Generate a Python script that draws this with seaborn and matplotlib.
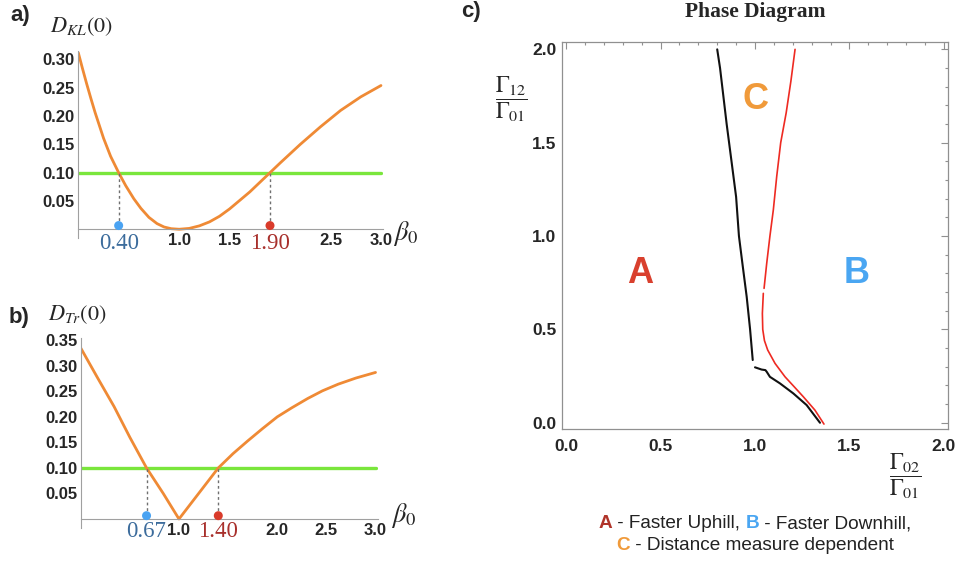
import matplotlib
matplotlib.use("Agg")
import matplotlib.pyplot as plt
from matplotlib.ticker import MultipleLocator
from matplotlib.offsetbox import TextArea, HPacker, AnnotationBbox
import seaborn as sns

# values

# a) D_KL(0) against beta_0
beta_kl = [0.0, 0.04, 0.083, 0.125, 0.167, 0.25, 0.32, 0.40, 0.47, 0.55, 0.62, 0.70,
           0.78, 0.85, 0.92, 1.0, 1.1, 1.2, 1.3, 1.4, 1.5, 1.6, 1.7, 1.8, 1.9, 2.0,
           2.2, 2.4, 2.6, 2.8, 3.0]
d_kl = [0.312, 0.285, 0.257, 0.231, 0.206, 0.161, 0.129, 0.100, 0.077, 0.054, 0.037, 0.021,
        0.010, 0.004, 0.001, 0.0, 0.0015, 0.006, 0.013, 0.023, 0.036, 0.051, 0.066, 0.083, 0.100, 0.117,
        0.150, 0.181, 0.210, 0.234, 0.254]

# b) D_Tr(0) against beta_0
beta_tr = [0.0, 0.17, 0.34, 0.50, 0.67, 0.84, 1.0, 1.2, 1.4, 1.55, 1.7, 1.85, 2.0,
           2.15, 2.31, 2.46, 2.62, 2.8, 3.0]
d_tr = [0.335, 0.277, 0.220, 0.160, 0.100, 0.050, 0.0, 0.050, 0.100, 0.128, 0.153, 0.177, 0.200,
        0.218, 0.236, 0.251, 0.264, 0.276, 0.287]

threshold = 0.10
beta_span = [0.0, 3.0]
kl_cross = [0.40, 1.90]
tr_cross = [0.67, 1.40]
kl_cross_labels = ["0.40", "1.90"]
tr_cross_labels = ["0.67", "1.40"]
dot_y = 0.0065

beta_ticks = [0.5, 1.0, 1.5, 2.0, 2.5, 3.0]
a_xticklabels = ["", "1.0", "1.5", "", "2.5", "3.0"]
b_xticklabels = ["", "1.0", "", "2.0", "2.5", "3.0"]
a_yticks = [0.05, 0.10, 0.15, 0.20, 0.25, 0.30]
b_yticks = [0.05, 0.10, 0.15, 0.20, 0.25, 0.30, 0.35]

# c) phase diagram boundaries (x = G02/G01, y = G12/G01)
black_upper_x = [0.80, 0.815, 0.829, 0.85, 0.877, 0.90, 0.915, 0.935, 0.956, 0.974, 0.988]
black_upper_y = [2.0, 1.90, 1.78, 1.60, 1.39, 1.21, 1.0, 0.84, 0.675, 0.50, 0.336]
black_lower_x = [1.0, 1.035, 1.055, 1.062, 1.079, 1.132, 1.203, 1.273, 1.344]
black_lower_y = [0.297, 0.285, 0.282, 0.273, 0.246, 0.211, 0.157, 0.095, 0.0]
red_upper_x = [1.212, 1.19, 1.165, 1.136, 1.115, 1.097, 1.079, 1.062, 1.048]
red_upper_y = [2.0, 1.83, 1.66, 1.5, 1.32, 1.14, 1.0, 0.854, 0.72]
red_lower_x = [1.044, 1.039, 1.041, 1.05, 1.067, 1.106, 1.159, 1.21, 1.256, 1.317, 1.365]
red_lower_y = [0.693, 0.586, 0.5, 0.44, 0.39, 0.318, 0.246, 0.19, 0.139, 0.068, -0.007]

region_labels = ["A", "B", "C"]
region_x = [0.39, 1.54, 1.0]
region_y = [0.80, 0.80, 1.73]
region_colors = ["#d9402e", "#4aa6f2", "#f09a3a"]
c_ticks = [0.0, 0.5, 1.0, 1.5, 2.0]

caption_1 = [("A", "#b0342a", "bold"), (" - Faster Uphill, ", "#222222", "normal"),
             ("B", "#4aa6f2", "bold"), (" - Faster Downhill,", "#222222", "normal")]
caption_2 = [("C", "#f09a3a", "bold"), (" - Distance measure dependent", "#222222", "normal")]

ORANGE = "#ef8a35"
GREEN = "#7ae63c"
BLUE_DOT = "#4aa3f2"
RED_DOT = "#d93b2b"
BLUE_TXT = "#3c6c9c"
RED_TXT = "#a8302c"
AXIS_GRAY = "#a0a0a0"

sns.set_theme(style="white")
plt.rcParams['font.family'] = ['Liberation Sans', 'DejaVu Sans']
plt.rcParams['mathtext.fontset'] = 'stix'

W, H = 956, 566
fig = plt.figure(figsize=(W / 100, H / 100), dpi=100)


def box(x0, y0, x1, y1):
    # pixel box (top-left origin) -> figure fraction rect
    return [x0 / W, 1 - y1 / H, (x1 - x0) / W, (y1 - y0) / H]


def fpos(x, y):
    return x / W, 1 - y / H


def style_beta_axes(ax, xticklabels, yticks, ylim):
    ax.set_xlim(0, 3.02)
    ax.set_ylim(*ylim)
    ax.spines['top'].set_visible(False)
    ax.spines['right'].set_visible(False)
    ax.spines['bottom'].set_position(('data', 0))
    for s in ['left', 'bottom']:
        ax.spines[s].set_color(AXIS_GRAY)
        ax.spines[s].set_linewidth(0.8)
    ax.set_xticks(beta_ticks)
    ax.set_xticklabels(xticklabels)
    ax.set_yticks(yticks)
    ax.set_yticklabels([f"{v:.2f}" for v in yticks])
    ax.xaxis.set_minor_locator(MultipleLocator(0.1))
    ax.yaxis.set_minor_locator(MultipleLocator(0.01))
    ax.tick_params(which='both', direction='in', color=AXIS_GRAY, width=0.7)
    ax.tick_params(which='major', length=4)
    ax.tick_params(which='minor', length=2)
    ax.tick_params(axis='x', pad=3, labelsize=12)
    ax.tick_params(axis='y', pad=2.5, labelsize=12)
    for lab in ax.get_xticklabels() + ax.get_yticklabels():
        lab.set_fontweight('bold')
    ax.set_xlabel('')
    ax.set_ylabel('')
    ax.patch.set_alpha(0)


def beta_panel(rect, beta, dist, cross, cross_labels, xticklabels, yticks, ylim, label_y):
    ax = fig.add_axes(rect)
    sns.lineplot(x=beta_span, y=[threshold, threshold], color=GREEN, lw=2.4, ax=ax)
    sns.lineplot(x=beta, y=dist, color=ORANGE, lw=2.0, ax=ax)
    ax.vlines(cross, dot_y, threshold, colors="#707070", linestyles=(0, (2, 2)), lw=1.0)
    sns.scatterplot(x=cross, y=[dot_y] * 2, hue=cross_labels, palette=[BLUE_DOT, RED_DOT],
                    s=42, edgecolor='none', legend=False, ax=ax, zorder=5, clip_on=False)
    style_beta_axes(ax, xticklabels, yticks, ylim)
    for xv, txt, col in zip(cross, cross_labels, [BLUE_TXT, RED_TXT]):
        ax.text(xv, label_y, txt, transform=ax.get_xaxis_transform(), ha='center', va='center',
                fontsize=16.5, family='Liberation Serif', color=col)
    return ax


ax_a = beta_panel(box(78.3, 51, 383, 238.3), beta_kl, d_kl, kl_cross, kl_cross_labels,
                  a_xticklabels, a_yticks, (-0.016, 0.315), -0.03)
ax_b = beta_panel(box(80.7, 337.7, 377.5, 528.2), beta_tr, d_tr, tr_cross, tr_cross_labels,
                  b_xticklabels, b_yticks, (-0.018, 0.355), -0.015)

# panel letters and axis labels
fig.text(*fpos(20, 16), "a)", fontsize=16, fontweight='bold', ha='center', va='center')
fig.text(*fpos(19, 318), "b)", fontsize=16, fontweight='bold', ha='center', va='center')
fig.text(*fpos(471, 11), "c)", fontsize=16, fontweight='bold', ha='center', va='center')
fig.text(*fpos(50, 27), r"$D_{KL}(0)$", fontsize=16, ha='left', va='center')
fig.text(*fpos(48, 315), r"$D_{Tr}(0)$", fontsize=16, ha='left', va='center')
fig.text(*fpos(393, 233), r"$\beta_0$", fontsize=19, ha='left', va='center')
fig.text(*fpos(391, 516), r"$\beta_0$", fontsize=19, ha='left', va='center')

# c) phase diagram
ax_c = fig.add_axes(box(561.7, 41.7, 948.3, 429.3))
sns.lineplot(x=black_upper_x, y=black_upper_y, sort=False, color="#111111", lw=1.5, ax=ax_c)
sns.lineplot(x=black_lower_x, y=black_lower_y, sort=False, color="#111111", lw=1.5, ax=ax_c)
sns.lineplot(x=red_upper_x, y=red_upper_y, sort=False, color="#ee2a22", lw=1.2, ax=ax_c)
sns.lineplot(x=red_lower_x, y=red_lower_y, sort=False, color="#ee2a22", lw=1.2, ax=ax_c)
for lab, xv, yv, col in zip(region_labels, region_x, region_y, region_colors):
    ax_c.text(xv, yv, lab, color=col, fontsize=26, fontweight='bold', ha='center', va='center')
ax_c.set_xlim(-0.023, 2.023)
ax_c.set_ylim(-0.035, 2.041)
ax_c.set_xticks(c_ticks)
ax_c.set_yticks(c_ticks)
ax_c.set_xticklabels([f"{v:.1f}" for v in c_ticks])
ax_c.set_yticklabels([f"{v:.1f}" for v in c_ticks])
ax_c.xaxis.set_minor_locator(MultipleLocator(0.1))
ax_c.yaxis.set_minor_locator(MultipleLocator(0.1))
ax_c.tick_params(which='both', direction='in', top=True, right=True, color="#909090", width=0.8)
ax_c.tick_params(which='major', length=5)
ax_c.tick_params(which='minor', length=2.5)
ax_c.tick_params(axis='x', pad=7, labelsize=12.5)
ax_c.tick_params(axis='y', pad=4, labelsize=12.5)
for lab in ax_c.get_xticklabels() + ax_c.get_yticklabels():
    lab.set_fontweight('bold')
for s in ax_c.spines.values():
    s.set_color("#909090")
    s.set_linewidth(0.9)
ax_c.set_xlabel('')
ax_c.set_ylabel('')

fig.text(*fpos(755, 12), "Phase Diagram", fontsize=15.5, fontweight='bold',
         family='Liberation Serif', ha='center', va='center')
fig.text(*fpos(511, 99), r"$\dfrac{\Gamma_{12}}{\Gamma_{01}}$", fontsize=16.5, ha='center', va='center')
fig.text(*fpos(905, 476), r"$\dfrac{\Gamma_{02}}{\Gamma_{01}}$", fontsize=16.5, ha='center', va='center')


def caption_line(parts, y_px):
    areas = [TextArea(t, textprops=dict(color=c, fontsize=13.7, fontweight=w, family='Liberation Sans'))
             for t, c, w in parts]
    packed = HPacker(children=areas, align='baseline', pad=0, sep=0)
    ab = AnnotationBbox(packed, fpos(755, y_px), xycoords='figure fraction', frameon=False,
                        box_alignment=(0.5, 0.5), pad=0)
    fig.add_artist(ab)


caption_line(caption_1, 524)
caption_line(caption_2, 546)

fig.savefig("out.png", dpi=100)
